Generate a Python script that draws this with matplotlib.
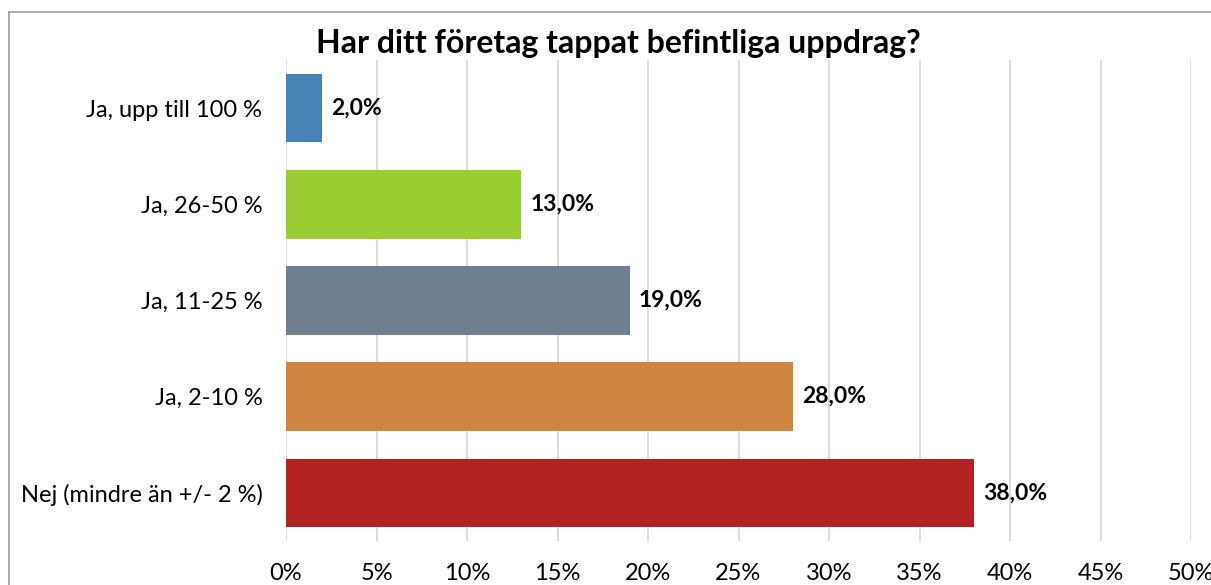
import matplotlib
matplotlib.use("Agg")
import matplotlib.pyplot as plt
from matplotlib.lines import Line2D

categories = ["Nej (mindre än +/- 2 %)", "Ja, 2-10 %", "Ja, 11-25 %", "Ja, 26-50 %", "Ja, upp till 100 %"]
values = [38.0, 28.0, 19.0, 13.0, 2.0]
colors = ["#B22222", "#CD853F", "#708090", "#9ACD32", "#4682B4"]
xticks = [0, 5, 10, 15, 20, 25, 30, 35, 40, 45, 50]

plt.rcParams['font.family'] = ['Lato', 'DejaVu Sans']

W, H = 1211, 585
fig = plt.figure(figsize=(W/100, H/100), dpi=100)
ax = fig.add_axes([286/W, 1-541/H, (1191-286)/W, (541-60)/H])

ypos = list(range(len(categories)))
ax.barh(ypos, values, height=0.715, color=colors, zorder=3)
for y, v in zip(ypos, values):
    ax.annotate(("%.1f%%" % v).replace(".", ","), (v, y), xytext=(6.5, 0),
                textcoords="offset points", va="center", ha="left",
                fontsize=16.5, fontweight="bold", color="black")

ax.set_xlim(0, 50)
ax.set_ylim(-0.5, len(categories)-0.5)
ax.set_yticks(ypos)
ax.set_yticklabels(categories, fontsize=17)
ax.set_xticks(xticks)
ax.set_xticklabels(["%d%%" % t for t in xticks], fontsize=17)
ax.tick_params(axis="y", length=0, pad=17)
ax.tick_params(axis="x", length=0, pad=16)
ax.grid(axis="x", color="#D9D9D9", linewidth=1.3, zorder=0)
for s in ax.spines.values():
    s.set_visible(False)

fig.text(618/W, 1-44/H, "Har ditt företag tappat befintliga uppdrag?",
         ha="center", va="center", fontsize=23, fontweight="bold")

# outer frame (top and left edges visible)
fig.add_artist(Line2D([9/W, 1], [1-12/H, 1-12/H], color="#A0A0A0", linewidth=1.2, transform=fig.transFigure))
fig.add_artist(Line2D([9/W, 9/W], [0, 1-12/H], color="#A0A0A0", linewidth=1.2, transform=fig.transFigure))

fig.savefig("out.png", dpi=100)
